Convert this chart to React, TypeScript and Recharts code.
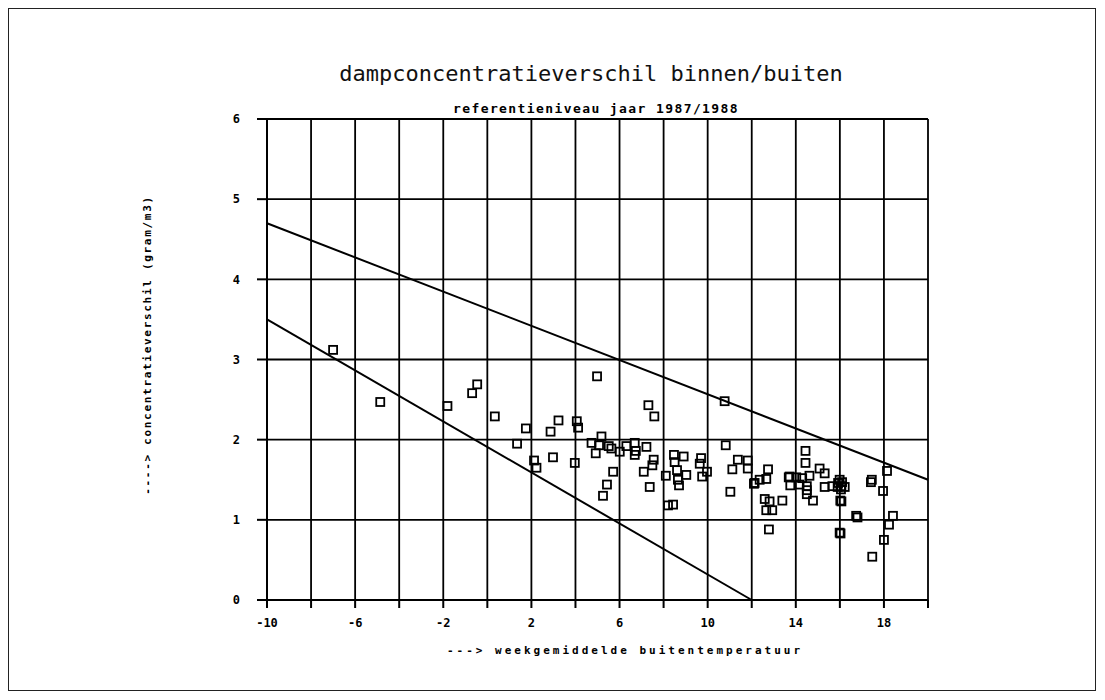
import React from 'react';
import { ScatterChart, Scatter, XAxis, YAxis, CartesianGrid, ReferenceLine } from 'recharts';

// weekly mean outdoor temperature (°C)
const temperature = [
  -7.0, -4.86, -1.81, -0.46, -0.69, 0.34, 4.98, 7.31, 7.58, 1.75,
  1.35, 3.23, 2.87, 4.06, 4.12, 10.77, 10.82, 2.12, 2.23, 2.98,
  3.97, 4.73, 5.18, 5.07, 4.92, 5.63, 6.01, 5.71, 5.43, 5.25,
  6.31, 6.69, 6.74, 6.69, 7.22, 7.10, 7.37, 7.55, 7.49, 8.10,
  8.20, 8.43, 8.47, 8.91, 8.50, 8.61, 9.03, 8.65, 8.70, 9.70,
  9.64, 9.75, 9.97, 11.37, 11.82, 11.12, 11.82, 11.03, 12.13, 12.36,
  12.74, 12.66, 12.59, 12.81, 12.66, 12.93, 13.39, 12.78, 13.72, 14.02,
  13.75, 14.44, 14.44, 14.29, 14.62, 14.17, 14.50, 14.50, 14.50, 14.78,
  15.08, 15.31, 15.31, 15.66, 15.92, 16.07, 16.22, 15.99, 16.07, 15.99,
  16.74, 17.45, 17.41, 18.14, 17.96, 18.41, 18.23, 18.00, 17.47,
  16.10, 15.90, 16.05, 16.02, 16.03, 16.80, 12.10, 13.68, 5.51,
];

// vapour concentration difference inside/outside (gram/m3)
const concentrationDiff = [
  3.12, 2.47, 2.42, 2.69, 2.58, 2.29, 2.79, 2.43, 2.29, 2.14,
  1.95, 2.24, 2.10, 2.23, 2.15, 2.48, 1.93, 1.74, 1.65, 1.78,
  1.71, 1.96, 2.04, 1.93, 1.83, 1.89, 1.85, 1.60, 1.44, 1.30,
  1.92, 1.96, 1.86, 1.81, 1.91, 1.60, 1.41, 1.75, 1.68, 1.55,
  1.18, 1.19, 1.81, 1.79, 1.72, 1.62, 1.56, 1.50, 1.43, 1.77,
  1.70, 1.54, 1.60, 1.75, 1.74, 1.63, 1.64, 1.35, 1.46, 1.50,
  1.63, 1.51, 1.26, 1.23, 1.12, 1.12, 1.24, 0.88, 1.54, 1.53,
  1.43, 1.86, 1.71, 1.52, 1.55, 1.44, 1.42, 1.37, 1.32, 1.24,
  1.64, 1.58, 1.41, 1.42, 1.46, 1.42, 1.41, 1.50, 1.23, 0.84,
  1.05, 1.50, 1.47, 1.61, 1.36, 1.05, 0.94, 0.75, 0.54,
  1.47, 1.41, 1.38, 1.24, 0.83, 1.03, 1.45, 1.53, 1.92,
];

// limit lines
const upperLineX = [-10, 20];
const upperLineY = [4.7, 1.5];
const lowerLineX = [-10, 12];
const lowerLineY = [3.5, 0];

// axes
const xTicks = [-10, -8, -6, -4, -2, 0, 2, 4, 6, 8, 10, 12, 14, 16, 18, 20];
const xLabelTicks = [-10, -6, -2, 2, 6, 10, 14, 18];
const yTicks = [0, 1, 2, 3, 4, 5, 6];

const points = temperature.map((t, i) => ({ x: t, y: concentrationDiff[i] }));

const FONT = '"DejaVu Sans Mono", "Liberation Mono", monospace';

const Square = (props: any) => {
  const { cx, cy } = props;
  if (cx == null || cy == null) return null;
  const s = 8;
  return (
    <rect x={cx - s / 2} y={cy - s / 2} width={s} height={s} fill="none" stroke="#000" strokeWidth={1.8} />
  );
};

export default function App() {
  return (
    <div style={{ position: 'relative', width: 1089, height: 684, background: '#fff' }}>
      <div style={{ position: 'absolute', left: 0, top: 0, width: 1086, height: 681, border: '1.5px solid #222' }} />
      <div style={{ position: 'absolute', left: 0, top: 0 }}>
        <ScatterChart width={1089} height={684} margin={{ top: 111, right: 169, bottom: 62, left: 219 }}>
          <CartesianGrid stroke="#000" strokeWidth={1.8} />
          <XAxis
            type="number"
            dataKey="x"
            domain={[-10, 20]}
            ticks={xTicks}
            interval={0}
            allowDataOverflow
            height={30}
            tickSize={8}
            tickMargin={10}
            axisLine={{ stroke: '#000', strokeWidth: 2 }}
            tickLine={{ stroke: '#000', strokeWidth: 2 }}
            tick={{ fill: '#000', fontSize: 12, fontWeight: 'bold', fontFamily: FONT }}
            tickFormatter={(v: number) => (xLabelTicks.includes(v) ? String(v) : '')}
          />
          <YAxis
            type="number"
            dataKey="y"
            domain={[0, 6]}
            ticks={yTicks}
            interval={0}
            allowDataOverflow
            width={40}
            tickSize={10}
            tickMargin={17}
            axisLine={{ stroke: '#000', strokeWidth: 2 }}
            tickLine={{ stroke: '#000', strokeWidth: 2 }}
            tick={{ fill: '#000', fontSize: 12, fontWeight: 'bold', fontFamily: FONT }}
          />
          <ReferenceLine
            segment={[{ x: upperLineX[0], y: upperLineY[0] }, { x: upperLineX[1], y: upperLineY[1] }]}
            stroke="#000"
            strokeWidth={2}
          />
          <ReferenceLine
            segment={[{ x: lowerLineX[0], y: lowerLineY[0] }, { x: lowerLineX[1], y: lowerLineY[1] }]}
            stroke="#000"
            strokeWidth={2}
          />
          <Scatter data={points} shape={Square} isAnimationActive={false} />
        </ScatterChart>
      </div>
      <div style={{ position: 'absolute', left: 583, top: 55, transform: 'translateX(-50%)', whiteSpace: 'nowrap', fontFamily: FONT, fontSize: 22, lineHeight: '22px', color: '#111' }}>
        dampconcentratieverschil binnen/buiten
      </div>
      <div style={{ position: 'absolute', left: 588, top: 94, transform: 'translateX(-50%)', whiteSpace: 'nowrap', fontFamily: FONT, fontSize: 13, fontWeight: 'bold', letterSpacing: 1.4, lineHeight: '14px', color: '#000' }}>
        referentieniveau jaar 1987/1988
      </div>
      <div style={{ position: 'absolute', left: 617, top: 637, transform: 'translateX(-50%)', whiteSpace: 'nowrap', fontFamily: FONT, fontSize: 11, fontWeight: 'bold', letterSpacing: 3, lineHeight: '12px', color: '#000' }}>
        ---&gt; weekgemiddelde buitentemperatuur
      </div>
      <div style={{ position: 'absolute', left: 140, top: 337, transform: 'translate(-50%, -50%) rotate(-90deg)', whiteSpace: 'nowrap', fontFamily: FONT, fontSize: 11, fontWeight: 'bold', letterSpacing: 1.7, lineHeight: '12px', color: '#000' }}>
        ----&gt; concentratieverschil (gram/m3)
      </div>
    </div>
  );
}
